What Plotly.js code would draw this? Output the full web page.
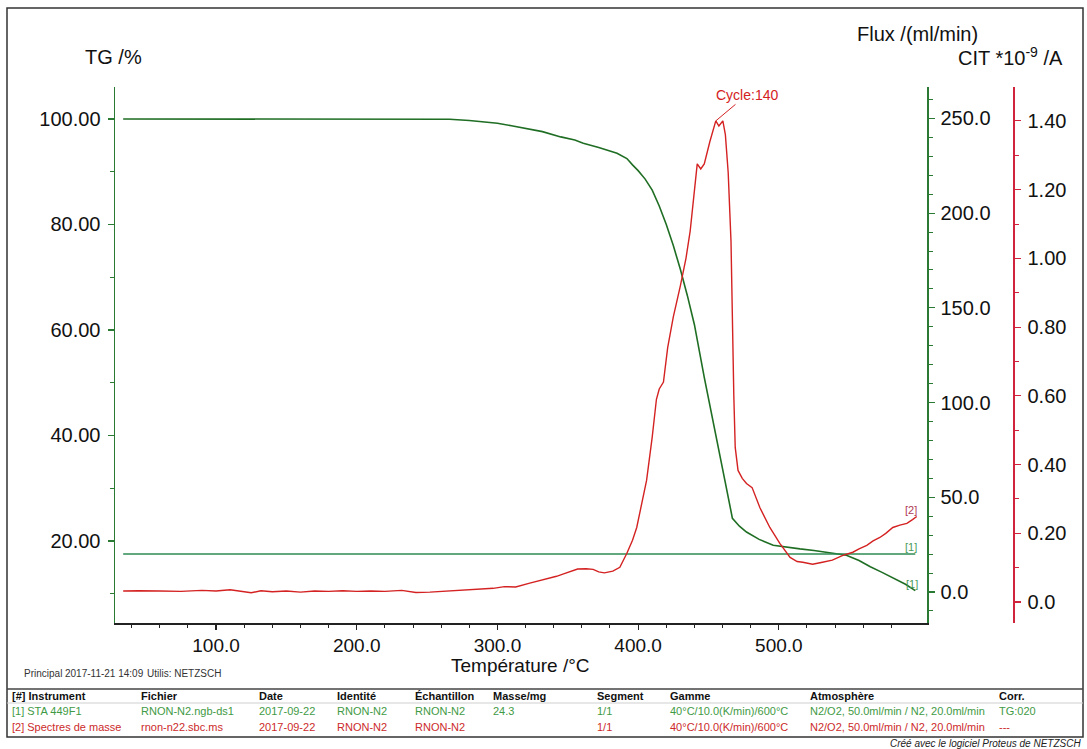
<!DOCTYPE html>
<html>
<head>
<meta charset="utf-8">
<script src="https://cdn.plot.ly/plotly-3.0.1.min.js"></script>
<style>html,body{margin:0;padding:0;background:#fff;}#chart{width:1087px;height:749px;}</style>
</head>
<body>
<div id="chart"></div>
<script>
// ---------- DATA ----------
// TG curve (green, left axis, %)
const tgTemp = [34,60,100,150,200,250,266,280,290,300,310,320,332,345,355,361,372,385,392,396,400,405,410,415,420,425,430,435,440,447,451,456,462,467,472,477,486,496,505,515,525,534,548,557,565,573,581,590,597];
const tgValue = [100.0,100.0,100.0,100.0,100.0,100.0,99.95,99.7,99.5,99.2,98.7,98.2,97.6,96.6,96.0,95.4,94.6,93.5,92.5,91.3,90.2,88.6,86.5,83.5,80.0,76.0,71.5,66.5,61.0,51.0,45.5,39.0,31.0,24.3,22.8,21.7,20.3,19.2,18.8,18.5,18.2,17.9,17.3,16.3,15.1,14.1,13.0,11.8,10.6];

// Flux curve (green, ml/min)
const fluxTemp = [34, 597];
const fluxValue = [20, 20];

// Ion current CIT (red, *10^-9 A)
const citTemp = [34,45,60,75,90,100,110,120,125,132,140,150,160,170,180,190,200,210,220,232,242,252,262,275,287,297,305,313,323,335,342,347,352,357,363,368,372,376,382,387,392,396,399,403,406,410,413,415,418,421,425,430,434,437,440,442,444.5,447,451,455.2,457.4,460.2,462,464,466,467,468,469,471,474,477,481,486.5,493.6,500.7,508,513,517,524,531,538,545.5,552.6,557,562.5,567,571.8,576,581,586,591,595,598];
const citValue = [0.032,0.033,0.032,0.031,0.034,0.032,0.036,0.030,0.027,0.033,0.030,0.032,0.029,0.032,0.031,0.033,0.031,0.032,0.031,0.034,0.028,0.029,0.031,0.034,0.036,0.040,0.045,0.044,0.055,0.067,0.075,0.082,0.090,0.096,0.097,0.095,0.088,0.085,0.090,0.101,0.142,0.180,0.217,0.290,0.354,0.48,0.59,0.62,0.64,0.74,0.83,0.92,1.00,1.08,1.20,1.275,1.26,1.275,1.34,1.40,1.385,1.40,1.36,1.25,1.05,0.80,0.60,0.45,0.383,0.36,0.345,0.333,0.275,0.217,0.171,0.130,0.118,0.116,0.110,0.116,0.122,0.136,0.145,0.155,0.165,0.178,0.188,0.200,0.217,0.224,0.229,0.240,0.249];

// Tick labels
const xTickVals = [100,200,300,400,500];
const tgTickVals = [20,40,60,80,100];
const fluxTickVals = [0,50,100,150,200,250];
const citTickVals = [0,0.2,0.4,0.6,0.8,1.0,1.2,1.4];
const citTickText = ["0.0","0.20","0.40","0.60","0.80","1.00","1.20","1.40"];

// Peak annotation
const peakTemp = 455.2, peakCit = 1.40, peakLabel = "Cycle:140";

// Info table
const tableHeader = ["[#] Instrument","Fichier","Date","Identité","Échantillon","Masse/mg","Segment","Gamme","Atmosphère","Corr."];
const tableRow1 = ["[1] STA 449F1","RNON-N2.ngb-ds1","2017-09-22","RNON-N2","RNON-N2","24.3","1/1","40°C/10.0(K/min)/600°C","N2/O2, 50.0ml/min / N2, 20.0ml/min","TG:020"];
const tableRow2 = ["[2] Spectres de masse","rnon-n22.sbc.ms","2017-09-22","RNON-N2","RNON-N2","","1/1","40°C/10.0(K/min)/600°C","N2/O2, 50.0ml/min / N2, 20.0ml/min","---"];

// ---------- LAYOUT HELPERS ----------
const L = 115, R = 1013, T = 87, B = 623, XR = 927;
const px = x => (x - L) / (R - L);
const py = y => (B - y) / (B - T);
const FONT = "Liberation Sans, Arial, sans-serif";
const GREEN_AX = "#2b7a33", GREEN_TG = "#1f6e24", GREEN_FLUX = "#2e8b55";
const RED_AX = "#d0243c", RED = "#d42222";
const ROW1C = "#3f9a45", ROW2C = "#cc2a2a";

const colX = [10,139,257,335,413,491,595,668,808,997];

const traces = [
  {x: tgTemp, y: tgValue, type: "scatter", mode: "lines", yaxis: "y", line: {color: GREEN_TG, width: 1.6}, hoverinfo: "skip"},
  {x: fluxTemp, y: fluxValue, type: "scatter", mode: "lines", yaxis: "y2", line: {color: GREEN_FLUX, width: 1.6}, hoverinfo: "skip"},
  {x: citTemp, y: citValue, type: "scatter", mode: "lines", yaxis: "y3", line: {color: RED, width: 1.4}, hoverinfo: "skip"}
];

const tickFont = {family: FONT, size: 20, color: "#111"};
const xTickFont = {family: FONT, size: 19, color: "#111"};
const minorX = []; for (let v = 40; v <= 580; v += 20) minorX.push(v);

const annotations = [];
function txt(x, y, text, opts) {
  if (!text) return;
  annotations.push(Object.assign({xref: "paper", yref: "paper", x: px(x), y: py(y), text: text, showarrow: false,
    xanchor: "left", yanchor: "middle", font: {family: FONT, size: 20, color: "#111"}}, opts || {}));
}
txt(113, 57, "TG /%", {xanchor: "center"});
txt(980, 34, "Flux /(ml/min)", {xanchor: "right"});
txt(1065, 57, "CIT *10<sup>-9</sup> /A", {xanchor: "right"});
txt(520, 665, "Température /°C", {xanchor: "center", font: {family: FONT, size: 19, color: "#111"}});
txt(911, 510, "[2]", {xanchor: "center", font: {family: FONT, size: 11, color: "#b03a55"}});
txt(911, 547, "[1]", {xanchor: "center", font: {family: FONT, size: 11, color: "#4a9a5a"}});
txt(912, 584, "[1]", {xanchor: "center", font: {family: FONT, size: 11, color: "#4a9a5a"}});
const smallFont = {family: FONT, size: 10, color: "#333"};
txt(22, 673, "Principal", {font: smallFont});
txt(63, 673, "2017-11-21 14:09", {font: smallFont});
txt(145, 673, "Utilis: NETZSCH", {font: smallFont});
txt(1083, 743, "<i>Créé avec le logiciel Proteus de NETZSCH</i>", {xanchor: "right", font: {family: FONT, size: 10, color: "#222"}});
tableHeader.forEach((h, i) => txt(colX[i], 696, "<b>" + h + "</b>", {font: {family: FONT, size: 11, color: "#111"}}));
tableRow1.forEach((h, i) => txt(colX[i], 711, h, {font: {family: FONT, size: 11, color: ROW1C}}));
tableRow2.forEach((h, i) => txt(colX[i], 727, h, {font: {family: FONT, size: 11, color: ROW2C}}));

annotations.push({xref: "x", yref: "y3", x: peakTemp, y: peakCit, text: peakLabel, showarrow: true, arrowhead: 0,
  arrowwidth: 1, arrowcolor: RED, ax: 31, ay: -26, standoff: 0, font: {family: FONT, size: 14, color: RED}});

const shapes = [
  {type: "rect", xref: "paper", yref: "paper", x0: px(7), x1: px(1083), y0: py(737), y1: py(8), line: {color: "#333", width: 1.5}},
  {type: "line", xref: "paper", yref: "paper", x0: px(7), x1: px(1083), y0: py(689), y1: py(689), line: {color: "#444", width: 1.5}},
  {type: "line", xref: "paper", yref: "paper", x0: px(7), x1: px(1083), y0: py(703), y1: py(703), line: {color: "#cfcfcf", width: 1}}
];

const layout = {
  width: 1087, height: 749,
  margin: {l: L, r: 1087 - R, t: T, b: 749 - B, pad: 0},
  paper_bgcolor: "#fff", plot_bgcolor: "rgba(0,0,0,0)",
  showlegend: false, hovermode: false,
  font: {family: FONT},
  xaxis: {
    domain: [0, (XR - L) / (R - L)], range: [28.2, 605.3],
    showline: true, linecolor: "#222", linewidth: 1.5, mirror: false,
    showgrid: false, zeroline: false,
    ticks: "outside", ticklen: 5, tickwidth: 1.2, tickcolor: "#222",
    tickmode: "array", tickvals: xTickVals, tickformat: ".1f", tickfont: xTickFont,
    minor: {tickmode: "array", tickvals: minorX, ticks: "outside", ticklen: 3, tickwidth: 1, tickcolor: "#222", showgrid: false}
  },
  yaxis: {
    range: [4.45, 106.06],
    showline: true, linecolor: GREEN_AX, linewidth: 1.5,
    showgrid: false, zeroline: false,
    ticks: "outside", ticklen: 6, tickwidth: 1.2, tickcolor: GREEN_AX,
    tickmode: "array", tickvals: tgTickVals, tickformat: ".2f", tickfont: tickFont, ticklabelstandoff: 3,
    minor: {tickmode: "array", tickvals: [10,30,50,70,90], ticks: "outside", ticklen: 4, tickwidth: 1, tickcolor: GREEN_AX, showgrid: false}
  },
  yaxis2: {
    overlaying: "y", side: "right", anchor: "x",
    range: [-16.4, 266.6],
    showline: true, linecolor: GREEN_AX, linewidth: 1.5,
    showgrid: false, zeroline: false,
    ticks: "outside", ticklen: 6, tickwidth: 1.2, tickcolor: GREEN_AX,
    tickmode: "array", tickvals: fluxTickVals, tickformat: ".1f", tickfont: tickFont, ticklabelstandoff: 2,
    minor: {tickmode: "linear", tick0: 0, dtick: 10, ticks: "outside", ticklen: 4, tickwidth: 1, tickcolor: GREEN_AX, showgrid: false}
  },
  yaxis3: {
    overlaying: "y", side: "right", anchor: "free", position: 1,
    range: [-0.0609, 1.4986],
    showline: true, linecolor: RED_AX, linewidth: 1.5,
    showgrid: false, zeroline: false,
    ticks: "outside", ticklen: 6, tickwidth: 1.2, tickcolor: RED_AX,
    tickmode: "array", tickvals: citTickVals, ticktext: citTickText, tickfont: tickFont, ticklabelstandoff: 3,
    minor: {tickmode: "linear", tick0: 0, dtick: 0.1, ticks: "outside", ticklen: 4, tickwidth: 1, tickcolor: RED_AX, showgrid: false}
  },
  annotations: annotations,
  shapes: shapes
};

Plotly.newPlot("chart", traces, layout, {staticPlot: true, displayModeBar: false});
</script>
</body>
</html>
